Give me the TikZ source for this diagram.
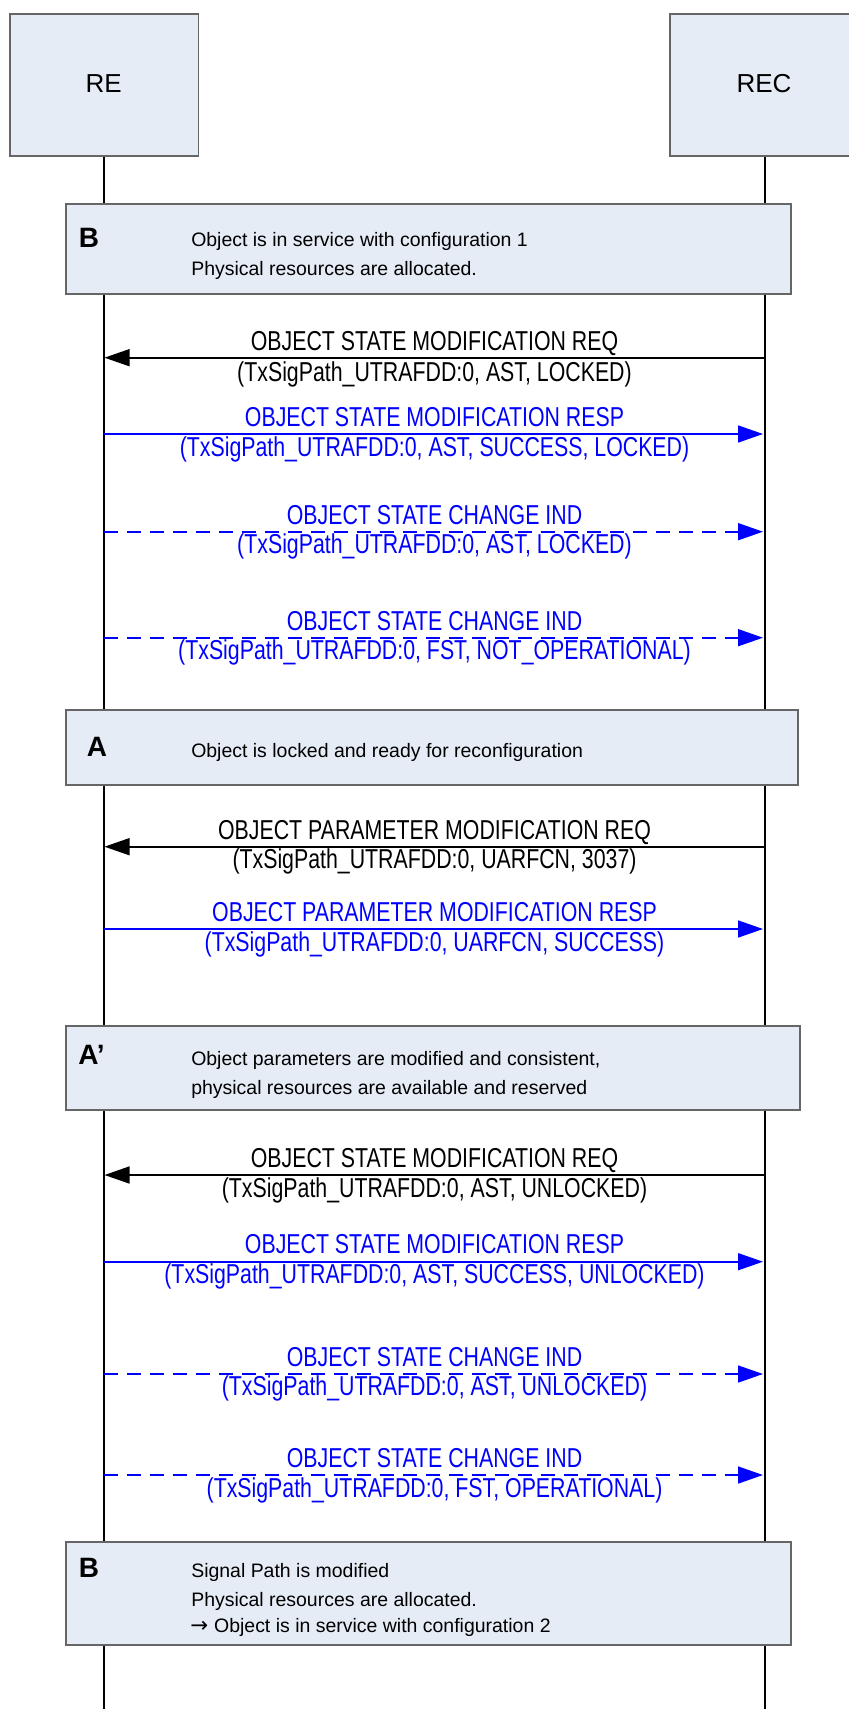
\documentclass[tikz,border=0pt]{standalone}
\usepackage{fontspec}
\setmainfont{Liberation Sans}
\newfontfamily\narrowfont[FakeStretch=0.78]{Liberation Sans}
\newfontfamily\arrowfont{DejaVu Sans}
\usetikzlibrary{arrows.meta}
\definecolor{boxfill}{HTML}{E6ECF6}
\definecolor{boxline}{HTML}{666666}
\definecolor{msgblue}{HTML}{0000FF}
\begin{document}
\begin{tikzpicture}[x=0.75pt,y=-0.75pt,
  lifeline/.style={line width=1.3pt, black},
  entity/.style={draw=boxline, fill=boxfill, line width=1.3pt},
  statebox/.style={draw=boxline, fill=boxfill, line width=1.3pt},
  tip/.style={-{Triangle[length=18.75pt,width=12.75pt]}},
  reqmsg/.style={line width=1.2pt, black, tip},
  respmsg/.style={line width=1.2pt, msgblue, tip},
  indmsg/.style={respmsg, dash pattern=on 10.5pt off 6.75pt},
  msgtxt/.style={font=\narrowfont\fontsize{20.5pt}{23pt}\selectfont, anchor=base, inner sep=0pt},
  entitytxt/.style={font=\fontsize{19.5pt}{22pt}\selectfont, anchor=base, inner sep=0pt},
  boxtxt/.style={font=\fontsize{14.6pt}{17pt}\selectfont, anchor=base west, inner sep=0pt},
  tag/.style={font=\bfseries\fontsize{21pt}{24pt}\selectfont, anchor=base west, inner sep=0pt},
]
\useasboundingbox (0,0) rectangle (849,1709);
\clip (0,0) rectangle (849,1709);

% lifelines
\coordinate (reTop) at (103.7,156);
\coordinate (reBot) at (103.7,1712);
\coordinate (recTop) at (765,156);
\coordinate (recBot) at (765,1712);
\draw[lifeline] (reTop) -- (reBot);
\draw[lifeline] (recTop) -- (recBot);

% entity boxes
\draw[entity] (9.8,14) rectangle (198.4,156);
\draw[entity] (670,14) rectangle (860,156);
\node[entitytxt] (re) at (103.7,93) {RE};
\node[entitytxt] (rec) at (764,93) {REC};

% state box B (1)
\draw[statebox] (66,204) rectangle (791,294);
\node[tag] (tagB1) at (78.5,247) {B};
\node[boxtxt] (b1l1) at (191,246) {Object is in service with configuration 1};
\node[boxtxt] (b1l2) at (191,275) {Physical resources are allocated.};

% messages 1-4
\coordinate (re1) at (104.5,357.7); \coordinate (rec1) at (765,357.7);
\draw[reqmsg] (rec1) -- (re1);
\node[msgtxt] (m1a) at (434.5,350.2) {OBJECT STATE MODIFICATION REQ};
\node[msgtxt] (m1b) at (434.5,381.2) {(TxSigPath\_UTRAFDD:0, AST, LOCKED)};

\coordinate (re2) at (103.7,434); \coordinate (rec2) at (763,434);
\draw[respmsg] (re2) -- (rec2);
\node[msgtxt, msgblue] (m2a) at (434.5,426.5) {OBJECT STATE MODIFICATION RESP};
\node[msgtxt, msgblue] (m2b) at (434.5,456.5) {(TxSigPath\_UTRAFDD:0, AST, SUCCESS, LOCKED)};

\coordinate (re3) at (103.7,531.7); \coordinate (rec3) at (763,531.7);
\draw[indmsg] (re3) -- (rec3);
\node[msgtxt, msgblue] (m3a) at (434.5,524.2) {OBJECT STATE CHANGE IND};
\node[msgtxt, msgblue] (m3b) at (434.5,553.5) {(TxSigPath\_UTRAFDD:0, AST, LOCKED)};

\coordinate (re4) at (103.7,637.7); \coordinate (rec4) at (763,637.7);
\draw[indmsg] (re4) -- (rec4);
\node[msgtxt, msgblue] (m4a) at (434.5,630.2) {OBJECT STATE CHANGE IND};
\node[msgtxt, msgblue] (m4b) at (434.5,659.5) {(TxSigPath\_UTRAFDD:0, FST, NOT\_OPERATIONAL)};

% state box A
\draw[statebox] (66,710) rectangle (798,785);
\node[tag] (tagA) at (86.5,756.7) {A};
\node[boxtxt] (al1) at (191,757) {Object is locked and ready for reconfiguration};

% messages 5-6
\coordinate (re5) at (104.5,846.7); \coordinate (rec5) at (765,846.7);
\draw[reqmsg] (rec5) -- (re5);
\node[msgtxt] (m5a) at (434.5,839.2) {OBJECT PARAMETER MODIFICATION REQ};
\node[msgtxt] (m5b) at (434.5,868.5) {(TxSigPath\_UTRAFDD:0, UARFCN, 3037)};

\coordinate (re6) at (103.7,929); \coordinate (rec6) at (763,929);
\draw[respmsg] (re6) -- (rec6);
\node[msgtxt, msgblue] (m6a) at (434.5,921.5) {OBJECT PARAMETER MODIFICATION RESP};
\node[msgtxt, msgblue] (m6b) at (434.5,951.5) {(TxSigPath\_UTRAFDD:0, UARFCN, SUCCESS)};

% state box A'
\draw[statebox] (66,1026) rectangle (800,1110);
\node[tag] (tagA2) at (78,1064) {A’};
\node[boxtxt] (a2l1) at (191,1065) {Object parameters are modified and consistent,};
\node[boxtxt] (a2l2) at (191,1094) {physical resources are available and reserved};

% messages 7-10
\coordinate (re7) at (104.5,1175); \coordinate (rec7) at (765,1175);
\draw[reqmsg] (rec7) -- (re7);
\node[msgtxt] (m7a) at (434.5,1167.5) {OBJECT STATE MODIFICATION REQ};
\node[msgtxt] (m7b) at (434.5,1197.5) {(TxSigPath\_UTRAFDD:0, AST, UNLOCKED)};

\coordinate (re8) at (103.7,1261.7); \coordinate (rec8) at (763,1261.7);
\draw[respmsg] (re8) -- (rec8);
\node[msgtxt, msgblue] (m8a) at (434.5,1253.5) {OBJECT STATE MODIFICATION RESP};
\node[msgtxt, msgblue] (m8b) at (434.5,1283.5) {(TxSigPath\_UTRAFDD:0, AST, SUCCESS, UNLOCKED)};

\coordinate (re9) at (103.7,1374); \coordinate (rec9) at (763,1374);
\draw[indmsg] (re9) -- (rec9);
\node[msgtxt, msgblue] (m9a) at (434.5,1366.5) {OBJECT STATE CHANGE IND};
\node[msgtxt, msgblue] (m9b) at (434.5,1395.5) {(TxSigPath\_UTRAFDD:0, AST, UNLOCKED)};

\coordinate (re10) at (103.7,1475); \coordinate (rec10) at (763,1475);
\draw[indmsg] (re10) -- (rec10);
\node[msgtxt, msgblue] (m10a) at (434.5,1467.5) {OBJECT STATE CHANGE IND};
\node[msgtxt, msgblue] (m10b) at (434.5,1497) {(TxSigPath\_UTRAFDD:0, FST, OPERATIONAL)};

% state box B (2)
\draw[statebox] (66,1542) rectangle (791,1645);
\node[tag] (tagB2) at (78.5,1577.7) {B};
\node[boxtxt] (b2l1) at (191,1577.7) {Signal Path is modified};
\node[boxtxt] (b2l2) at (191,1606.7) {Physical resources are allocated.};
\node[boxtxt] (b2l3) at (190,1632.7) {{\arrowfont\fontsize{16pt}{17pt}\selectfont →}\hspace{4.5pt}Object is in service with configuration 2};
\end{tikzpicture}
\end{document}
